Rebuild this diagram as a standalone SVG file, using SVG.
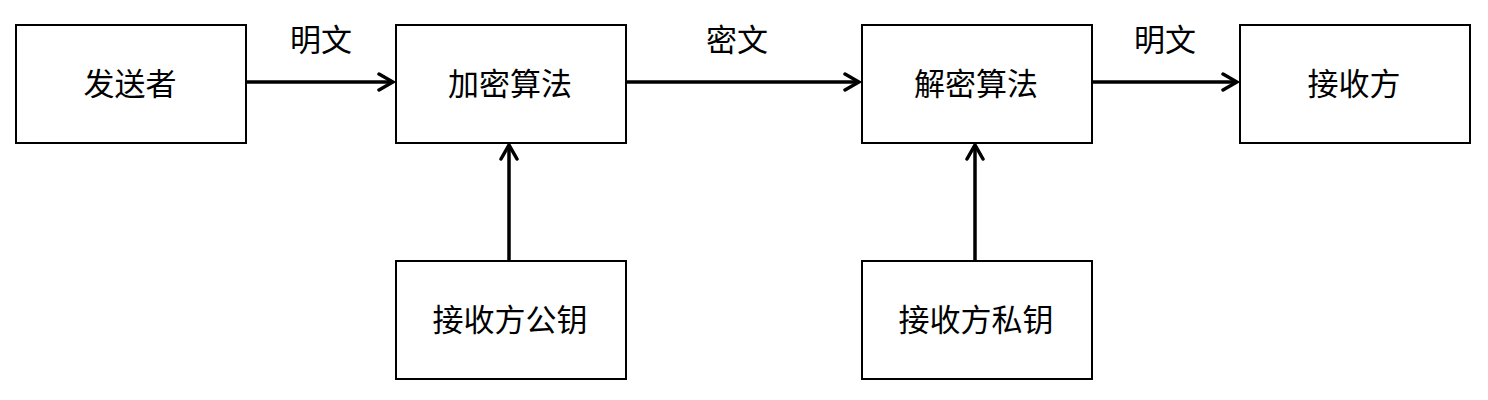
<svg xmlns="http://www.w3.org/2000/svg" width="1488" height="400" viewBox="0 0 1488 400">
<defs>
<style>
.box{fill:#fff;stroke:#000;stroke-width:2}
.t{font-family:"Noto Sans CJK SC","Liberation Sans",sans-serif;font-size:31px;fill:#000;text-anchor:middle;dominant-baseline:central}
.c{stroke:#000;stroke-width:3.5;fill:none}
</style>
<marker id="ah" markerUnits="userSpaceOnUse" markerWidth="20" markerHeight="20" viewBox="0 0 20 20" refX="18" refY="10" orient="auto">
<path d="M4,2 L18,10 L4,18" fill="none" stroke="#000" stroke-width="3.5" stroke-linecap="round" stroke-linejoin="miter"/>
</marker>
</defs>
<rect width="1488" height="400" fill="#fff"/>
<g id="sender"><rect class="box" x="16" y="25" width="230" height="118"/><text class="t" x="130" y="81">发送者</text></g>
<g id="encrypt"><rect class="box" x="396" y="25" width="230" height="118"/><text class="t" x="510" y="81">加密算法</text></g>
<g id="decrypt"><rect class="box" x="862" y="25" width="230" height="118"/><text class="t" x="976" y="81">解密算法</text></g>
<g id="receiver"><rect class="box" x="1240" y="25" width="230" height="118"/><text class="t" x="1354" y="81">接收方</text></g>
<g id="pubkey"><rect class="box" x="396" y="261" width="230" height="118"/><text class="t" x="510" y="317">接收方公钥</text></g>
<g id="privkey"><rect class="box" x="862" y="261" width="230" height="118"/><text class="t" x="976" y="317">接收方私钥</text></g>
<g id="connectors">
<line class="c" x1="246" y1="82" x2="393" y2="82" marker-end="url(#ah)"/>
<line class="c" x1="626" y1="82" x2="859" y2="82" marker-end="url(#ah)"/>
<line class="c" x1="1092" y1="82" x2="1237" y2="82" marker-end="url(#ah)"/>
<line class="c" x1="509" y1="261" x2="509" y2="145" marker-end="url(#ah)"/>
<line class="c" x1="975" y1="261" x2="975" y2="145" marker-end="url(#ah)"/>
<text class="t" x="321" y="37">明文</text>
<text class="t" x="737" y="37">密文</text>
<text class="t" x="1165" y="37">明文</text>
</g>
</svg>
